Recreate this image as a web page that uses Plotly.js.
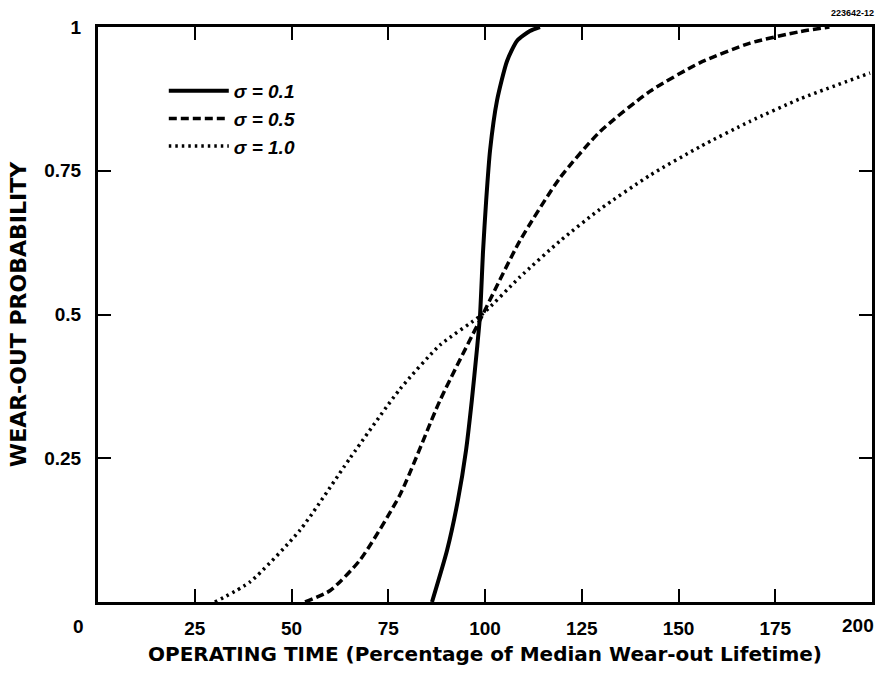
<!DOCTYPE html>
<html>
<head>
<meta charset="utf-8">
<script src="https://cdn.plot.ly/plotly-3.0.1.min.js"></script>
<style>html,body{margin:0;padding:0;background:#fff;}#chart{width:879px;height:673px;}</style>
</head>
<body>
<div id="chart"></div>
<script>
// Operating time (% of median wear-out lifetime) and wear-out probability
const xSigma01 = [86.3, 90.2, 93.0, 95.1, 96.6, 97.9, 98.7, 99.5, 100.3, 101.3, 103.1, 105.7, 108.3, 111.6, 114.2];
const ySigma01 = [0, 0.09, 0.177, 0.264, 0.351, 0.438, 0.497, 0.611, 0.698, 0.785, 0.872, 0.941, 0.976, 0.993, 1.0];

const xSigma05 = [53.5, 60, 67.7, 78.0, 88.4, 99.2, 109.0, 119.4, 129.7, 142.6, 155.6, 168.5, 181.4, 189];
const ySigma05 = [0, 0.02, 0.073, 0.186, 0.351, 0.497, 0.628, 0.738, 0.818, 0.888, 0.938, 0.972, 0.992, 1.0];

const xSigma10 = [30.2, 39.3, 52.2, 65.1, 78.0, 88.4, 99.2, 109.0, 119.4, 129.7, 142.6, 155.6, 168.5, 181.4, 199.5];
const ySigma10 = [0, 0.035, 0.125, 0.25, 0.37, 0.447, 0.5, 0.565, 0.628, 0.683, 0.742, 0.792, 0.836, 0.875, 0.92];

const seriesNames = ['σ = 0.1', 'σ = 0.5', 'σ = 1.0'];
const xTickVals = [25, 50, 75, 100, 125, 150, 175];
const xTickText = ['25', '50', '75', '100', '125', '150', '175'];
const yTickVals = [0.25, 0.5, 0.75, 1];
const yTickText = ['0.25', '0.5', '0.75', '1'];

const FONT = 'Liberation Sans, Arial, sans-serif';
const TFONT = 'DejaVu Sans, Liberation Sans, sans-serif';

const traces = [
  {x: xSigma01, y: ySigma01, name: seriesNames[0], mode: 'lines', line: {color: '#000', width: 4, shape: 'spline', smoothing: 0.6}},
  {x: xSigma05, y: ySigma05, name: seriesNames[1], mode: 'lines', line: {color: '#000', width: 3.5, dash: '8px,4px', shape: 'spline', smoothing: 0.6}},
  {x: xSigma10, y: ySigma10, name: seriesNames[2], mode: 'lines', line: {color: '#000', width: 3.5, dash: '2.5px,4px', shape: 'spline', smoothing: 0.6}}
];

const axisCommon = {
  showline: true, linecolor: '#000', linewidth: 3, mirror: 'ticks',
  ticks: 'inside', ticklen: 13, tickwidth: 2, tickcolor: '#000',
  showgrid: false, zeroline: false,
  tickfont: {family: FONT, size: 19, color: '#000', weight: 'bold'}
};

const layout = {
  width: 879, height: 673,
  margin: {l: 98, r: 7, t: 27, b: 71},
  paper_bgcolor: '#fff', plot_bgcolor: '#fff',
  showlegend: true,
  legend: {x: 0.085, y: 0.922, xanchor: 'left', yanchor: 'top', bgcolor: 'rgba(0,0,0,0)',
           font: {family: FONT, size: 19, color: '#000', weight: 'bold', style: 'italic'},
           tracegroupgap: 0, itemwidth: 60},
  xaxis: Object.assign({}, axisCommon, {
    range: [0, 200], tickvals: xTickVals, ticktext: xTickText, ticklabelstandoff: 7,
    title: {text: 'OPERATING TIME (Percentage of Median Wear-out Lifetime)', standoff: 10,
            font: {family: TFONT, size: 20, color: '#000', weight: 'bold'}}
  }),
  yaxis: Object.assign({}, axisCommon, {
    range: [0, 1], tickvals: yTickVals, ticktext: yTickText, ticklabelstandoff: 10,
    title: {text: 'WEAR-OUT PROBABILITY', standoff: 12,
            font: {family: TFONT, size: 22, color: '#000', weight: 'bold'}}
  }),
  annotations: [
    {text: '0', xref: 'paper', yref: 'paper', x: 0, y: 0, xshift: -20, yshift: -24,
     showarrow: false, xanchor: 'center', yanchor: 'middle', font: {family: FONT, size: 19, color: '#000', weight: 'bold'}},
    {text: '200', xref: 'x', yref: 'paper', x: 200, y: 0, xshift: 4, yshift: -23,
     showarrow: false, xanchor: 'right', yanchor: 'middle', font: {family: FONT, size: 19, color: '#000', weight: 'bold'}},
    {text: '223642-12', xref: 'paper', yref: 'paper', x: 1, y: 1, xshift: 4, yshift: 14,
     showarrow: false, xanchor: 'right', yanchor: 'middle', font: {family: FONT, size: 9, color: '#000', weight: 'bold'}}
  ]
};

Plotly.newPlot('chart', traces, layout, {displayModeBar: false, staticPlot: true});
</script>
</body>
</html>
